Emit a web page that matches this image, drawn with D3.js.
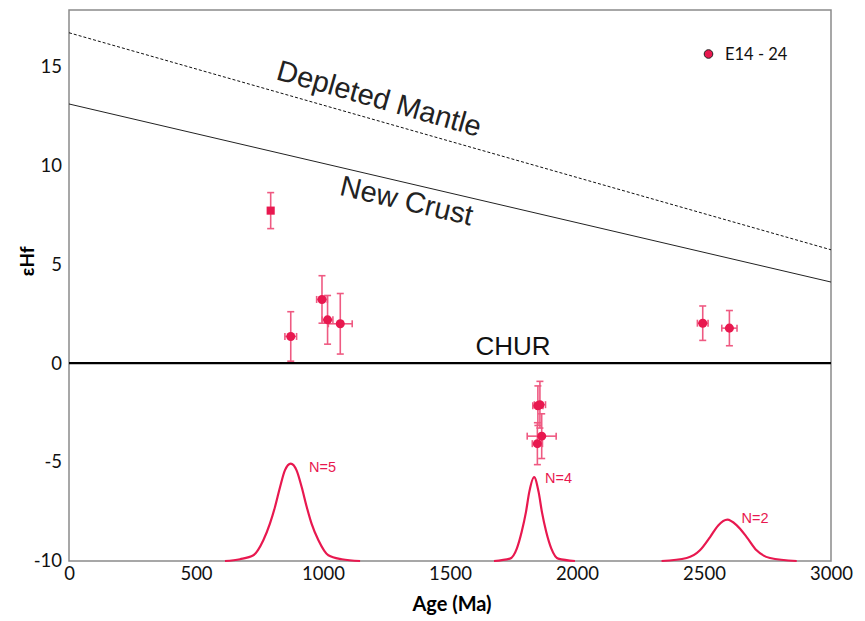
<!DOCTYPE html>
<html>
<head>
<meta charset="utf-8">
<script src="https://cdn.jsdelivr.net/npm/d3@7"></script>
<style>
  html, body { margin: 0; padding: 0; background: #fff; }
  svg { display: block; }
</style>
</head>
<body>
<svg id="chart" width="865" height="621"></svg>
<script>
// ---- Hf isotope data (sample E14 - 24) ----
const sampleName = "E14 - 24";
const ages    = [794, 873, 996, 1018, 1068, 1854, 1846, 1861, 1844, 2495, 2600];   // Ma
const ageErr  = [  0,  23,  21,   21,   47,   22,   20,   57,   20,   21,   30];
const epsHf   = [7.71, 1.35, 3.22, 2.19, 1.99, -2.10, -2.15, -3.69, -4.07, 2.02, 1.77];
const epsErr  = [0.91, 1.25, 1.20, 1.23, 1.53, 1.18, 1.00, 1.13, 1.06, 0.87, 0.89];

// Evolution lines (εHf at 0 Ma and 3000 Ma)
const depletedMantle = [[0, 16.7], [3000, 5.73]];
const newCrust       = [[0, 13.1], [3000, 4.1]];

// Age probability curves, sampled [age, εHf-axis position]
const peak1 = [[614,-10],[673,-9.91],[726,-9.71],[765,-8.95],[791,-8.11],[811,-7.27],[831,-6.26],[850,-5.42],[873,-5.08],
               [896,-5.42],[916,-6.26],[936,-7.27],[955,-8.11],[982,-8.95],[1021,-9.71],[1074,-9.91],[1146,-10]];
const peak2 = [[1673,-10],[1736,-9.88],[1763,-9.37],[1782,-8.53],[1799,-7.53],[1812,-6.52],[1831,-5.76],
               [1849,-6.52],[1862,-7.53],[1879,-8.53],[1899,-9.37],[1926,-9.88],[1992,-10]];
const peak3 = [[2333,-10],[2432,-9.85],[2484,-9.46],[2524,-8.79],[2556,-8.20],[2592,-7.91],
               [2629,-8.20],[2668,-8.79],[2707,-9.46],[2760,-9.85],[2865,-10]];
const peakCounts = ["N=5", "N=4", "N=2"];
const peakLabelAt = [[945, -5.25], [1874, -5.82], [2648, -7.85]];

const xTicks = [0, 500, 1000, 1500, 2000, 2500, 3000];
const yTicks = [-10, -5, 0, 5, 10, 15];

// ---- layout ----
const W = 865, H = 621;
const m = { left: 69, right: 34, top: 10, bottom: 60 };
const svg = d3.select("#chart");

const x = d3.scaleLinear().domain([0, 3000]).range([m.left, W - m.right]);
const y = d3.scaleLinear().domain([-10, 17.85]).range([H - m.bottom, m.top]);

const pink = "#e8184f";
const barPink = "#ef5a82";
const tickFont = "Lato, 'Open Sans', sans-serif";
const labelFont = "'Liberation Sans', Arial, sans-serif";
const plain = d => String(d);

// frame
svg.append("rect")
  .attr("x", x(0)).attr("y", y(17.85))
  .attr("width", x(3000) - x(0)).attr("height", y(-10) - y(17.85))
  .attr("fill", "none").attr("stroke", "#8a8a8a").attr("stroke-width", 1.5);

// axes (labels only)
const xAxis = d3.axisBottom(x).tickValues(xTicks).tickSize(0).tickPadding(6).tickFormat(plain);
const gx = svg.append("g").attr("transform", `translate(0,${y(-10)})`).call(xAxis);
gx.select(".domain").remove();
gx.selectAll("text").attr("font-family", tickFont).attr("font-size", 18.5).attr("fill", "#111");

const yAxis = d3.axisLeft(y).tickValues(yTicks).tickSize(0).tickPadding(7).tickFormat(plain);
const gy = svg.append("g").attr("transform", `translate(${x(0)},0)`).call(yAxis);
gy.select(".domain").remove();
gy.selectAll("text").attr("font-family", tickFont).attr("font-size", 18.5).attr("fill", "#111");

// axis titles
svg.append("text")
  .attr("x", 452).attr("y", 611)
  .attr("text-anchor", "middle")
  .attr("font-family", tickFont).attr("font-weight", "bold").attr("font-size", 20)
  .text("Age (Ma)");
svg.append("text")
  .attr("transform", `translate(26,${y(5) - 3}) rotate(-90)`)
  .attr("text-anchor", "middle").attr("dominant-baseline", "central")
  .attr("font-family", tickFont).attr("font-weight", "bold").attr("font-size", 19)
  .text("εHf");

// CHUR reference line
svg.append("line")
  .attr("x1", x(0)).attr("x2", x(3000)).attr("y1", y(0)).attr("y2", y(0))
  .attr("stroke", "#000").attr("stroke-width", 2.4);
svg.append("text")
  .attr("x", x(1748)).attr("y", y(0) - 8)
  .attr("text-anchor", "middle")
  .attr("font-family", labelFont).attr("font-size", 26).attr("fill", "#111")
  .text("CHUR");

// evolution lines
const line = d3.line().x(d => x(d[0])).y(d => y(d[1]));
svg.append("path").datum(depletedMantle).attr("d", line)
  .attr("fill", "none").attr("stroke", "#111").attr("stroke-width", 1).attr("stroke-dasharray", "3,2");
svg.append("path").datum(newCrust).attr("d", line)
  .attr("fill", "none").attr("stroke", "#222").attr("stroke-width", 1);

function lineLabel(seg, atAge, offset, text) {
  const ang = Math.atan2(y(seg[1][1]) - y(seg[0][1]), x(seg[1][0]) - x(seg[0][0]));
  const t = (atAge - seg[0][0]) / (seg[1][0] - seg[0][0]);
  const v = seg[0][1] + t * (seg[1][1] - seg[0][1]);
  const px = x(atAge) + offset * Math.sin(ang);
  const py = y(v) - offset * Math.cos(ang);
  svg.append("text")
    .attr("transform", `translate(${px},${py}) rotate(${ang * 180 / Math.PI})`)
    .attr("text-anchor", "middle").attr("dominant-baseline", "central")
    .attr("font-family", labelFont).attr("font-size", 29).attr("fill", "#222")
    .text(text);
}
lineLabel(depletedMantle, 1198, 22, "Depleted Mantle");
lineLabel(newCrust, 1345, -17, "New Crust");

// probability curves
const curve = d3.line().x(d => x(d[0])).y(d => y(d[1])).curve(d3.curveMonotoneX);
[peak1, peak2, peak3].forEach(p => {
  svg.append("path").datum(p).attr("d", curve)
    .attr("fill", "none").attr("stroke", pink).attr("stroke-width", 2.2);
});
peakCounts.forEach((t, i) => {
  svg.append("text")
    .attr("x", x(peakLabelAt[i][0])).attr("y", y(peakLabelAt[i][1]))
    .attr("dominant-baseline", "central")
    .attr("font-family", labelFont).attr("font-size", 14.5).attr("fill", pink)
    .text(t);
});

// error bars
const pts = ages.map((a, i) => ({ a, ae: ageErr[i], e: epsHf[i], ee: epsErr[i], i }));
const eb = svg.append("g").attr("stroke", barPink).attr("stroke-width", 1.6).attr("fill", "none");
const cap = 3.5;
pts.forEach(d => {
  const cx = x(d.a), cy = y(d.e);
  const y1 = y(d.e + d.ee), y2 = y(d.e - d.ee);
  eb.append("line").attr("x1", cx).attr("x2", cx).attr("y1", y1).attr("y2", y2);
  eb.append("line").attr("x1", cx - cap).attr("x2", cx + cap).attr("y1", y1).attr("y2", y1);
  eb.append("line").attr("x1", cx - cap).attr("x2", cx + cap).attr("y1", y2).attr("y2", y2);
  if (d.ae > 0) {
    const x1 = x(d.a - d.ae), x2 = x(d.a + d.ae);
    eb.append("line").attr("x1", x1).attr("x2", x2).attr("y1", cy).attr("y2", cy);
    eb.append("line").attr("x1", x1).attr("x2", x1).attr("y1", cy - cap).attr("y2", cy + cap);
    eb.append("line").attr("x1", x2).attr("x2", x2).attr("y1", cy - cap).attr("y2", cy + cap);
  }
});

// markers
svg.append("g").selectAll("path").data(pts).join("path")
  .attr("transform", d => `translate(${x(d.a)},${y(d.e)})`)
  .attr("d", d => d3.symbol().type(d.i === 0 ? d3.symbolSquare : d3.symbolCircle).size(d.i === 0 ? 66 : 64)())
  .attr("fill", pink);

// legend
svg.append("circle").attr("cx", 708.5).attr("cy", 54).attr("r", 4.3)
  .attr("fill", pink).attr("stroke", "#222").attr("stroke-width", 1);
svg.append("text").attr("x", 725).attr("y", 54)
  .attr("dominant-baseline", "central")
  .attr("font-family", tickFont).attr("font-size", 16.5).attr("fill", "#111")
  .text(sampleName);
</script>
</body>
</html>
